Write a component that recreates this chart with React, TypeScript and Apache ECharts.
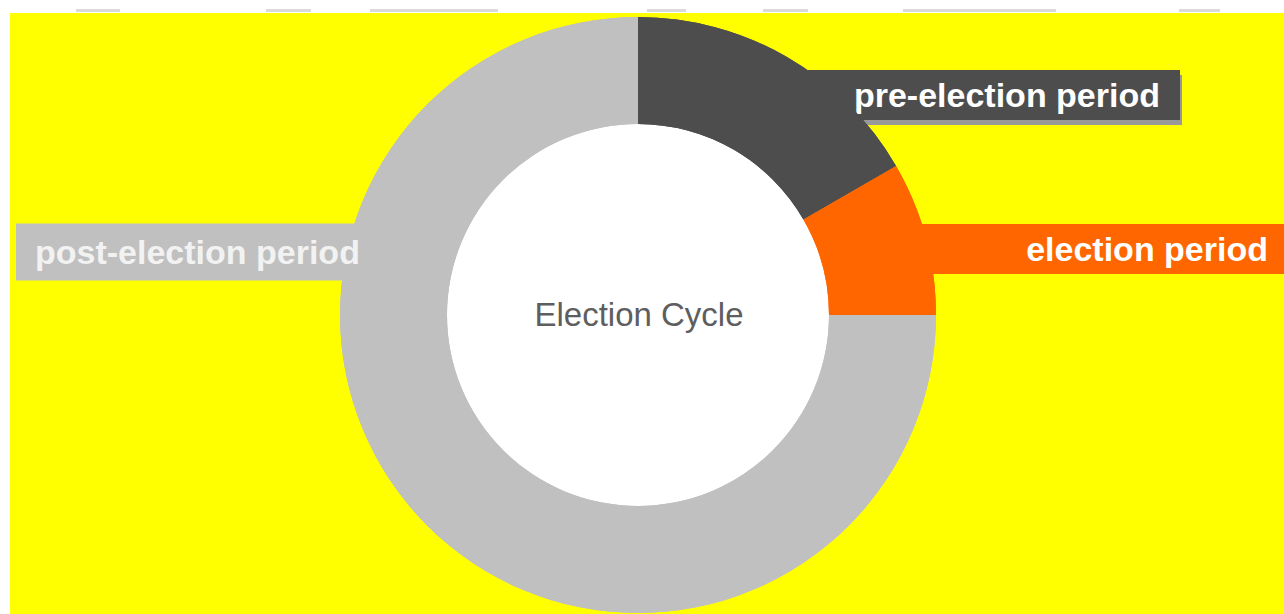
import React, { useEffect, useRef } from "react";
import * as echarts from "echarts";

const categories = ["pre-election period", "election period", "post-election period"];
const values = [2, 1, 9];
const sliceColors = ["#4d4d4d", "#ff6600", "#c0c0c0"];
const centerTitle = "Election Cycle";

// faint marks along the top edge (cut-off content above the chart)
const topMarks: [number, number][] = [
  [76, 120], [266, 311], [370, 498], [647, 686], [763, 808], [903, 1056], [1179, 1220],
];

const FONT = "'Liberation Sans', Arial, Helvetica, sans-serif";
const CX = 638;
const CY = 315;
const R_OUT = 298;
const R_IN = 191;

// label box placement (layout only)
const labelPlace = [
  { x: 1180, y: 95, align: "right" },
  { x: 1288, y: 249, align: "right" },
  { x: 16, y: 252, align: "left" },
];
const labelPadding = [
  [8, 20, 8, 60],
  [8, 20, 8, 150],
  [11, 40, 12, 19],
];
// which pie layer draws each label: 0 = beneath the ring, 1 = above it
const labelLayer = [0, 0, 1];

export default function App() {
  const ref = useRef<HTMLDivElement>(null);
  useEffect(() => {
    if (!ref.current) return;
    const chart = echarts.init(ref.current, undefined, { renderer: "svg" });
    const graphics: any[] = [
      { type: "rect", z: 0, shape: { x: 10, y: 13, width: 1274, height: 601 }, style: { fill: "#ffff00" } },
      { type: "circle", z: 1, shape: { cx: CX, cy: CY, r: R_IN + 1 }, style: { fill: "#ffffff" } },
      ...topMarks.map(([a, b]) => ({
        type: "rect",
        z: 0,
        shape: { x: a, y: 9, width: b - a, height: 3 },
        style: { fill: "#dadada" },
      })),
      {
        type: "text",
        z: 100,
        x: CX + 1,
        y: CY - 1,
        style: {
          text: centerTitle,
          fill: "#5e5e5e",
          font: `normal 33px ${FONT}`,
          align: "center",
          verticalAlign: "middle",
        },
      },
    ];
    const pieData = (layer: number) =>
      categories.map((name, i) => ({
        name,
        value: values[i],
        itemStyle: { color: sliceColors[i] },
        label:
          labelLayer[i] === layer
            ? {
                show: true,
                position: "outside",
                formatter: "{b}",
                color: i === 2 ? "#f2f2f2" : "#ffffff",
                fontFamily: FONT,
                fontWeight: "bold",
                fontSize: 34,
                lineHeight: 34,
                backgroundColor: sliceColors[i],
                padding: labelPadding[i],
                shadowColor: i === 0 ? "#999999" : "transparent",
                shadowOffsetX: i === 0 ? 2 : 0,
                shadowOffsetY: i === 0 ? 5 : 0,
                shadowBlur: 0,
              }
            : { show: false },
      }));
    const layout = (params: any) => {
      const p = labelPlace[params.dataIndex];
      return { x: p.x, y: p.y, align: p.align, verticalAlign: "middle" };
    };
    const base = {
      type: "pie",
      center: [CX, CY],
      radius: [R_IN, R_OUT],
      startAngle: 90,
      clockwise: true,
      avoidLabelOverlap: false,
      emphasis: { disabled: true },
      labelLine: { show: false },
      itemStyle: { borderWidth: 0 },
      labelLayout: layout,
    };
    chart.setOption({
      animation: false,
      backgroundColor: "#ffffff",
      graphic: graphics,
      series: [
        { ...base, z: 2, data: pieData(0) },
        { ...base, z: 5, silent: true, data: pieData(1) },
      ],
    });
    return () => chart.dispose();
  }, []);
  return (
    <div
      ref={ref}
      style={{ position: "absolute", left: 0, top: 0, width: 1284, height: 614 }}
    />
  );
}
